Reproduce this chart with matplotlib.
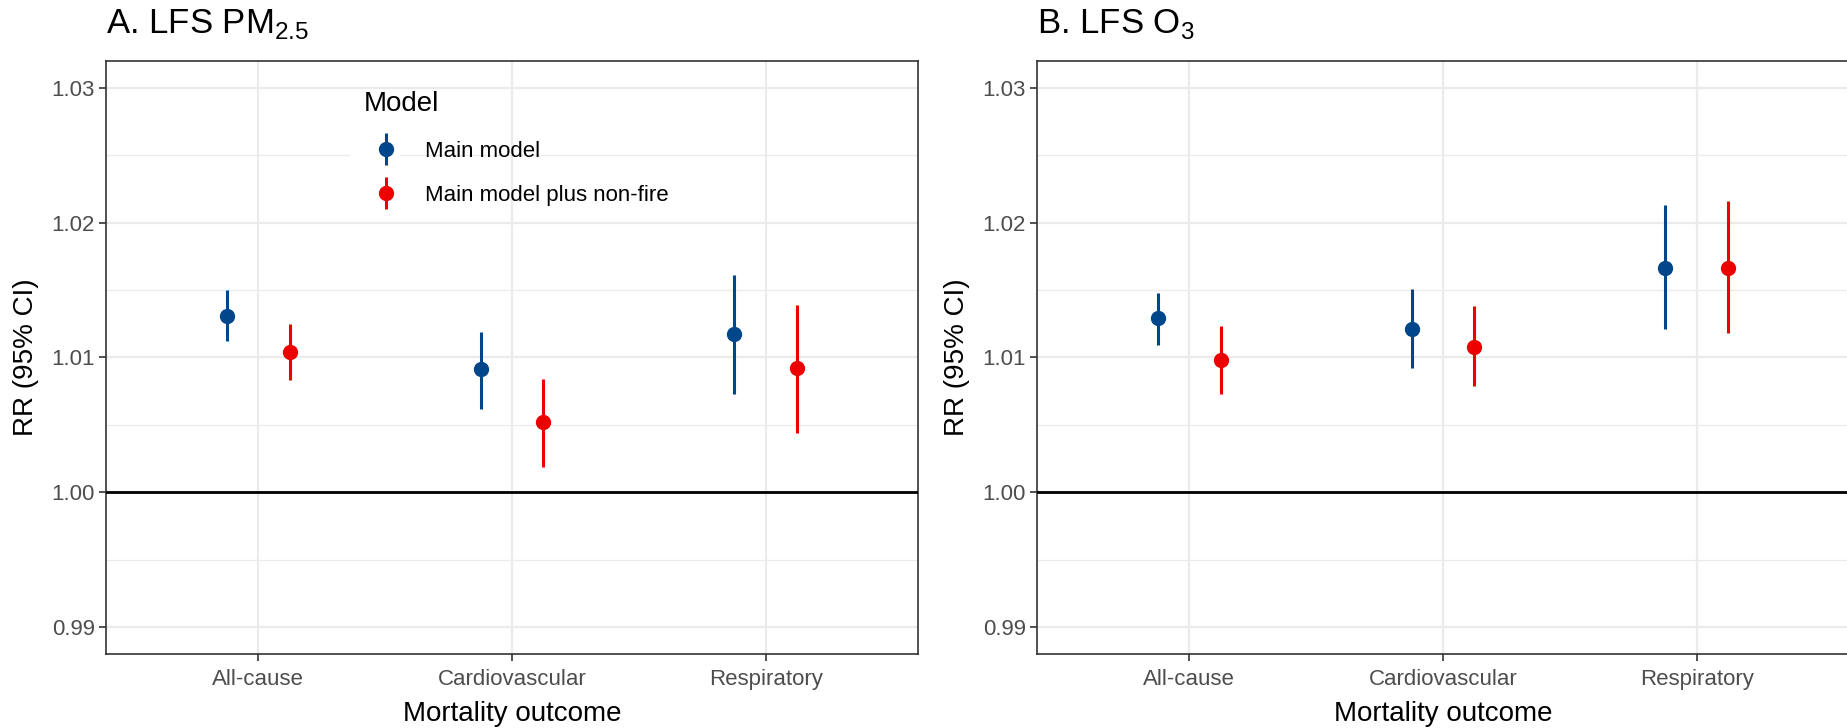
import matplotlib
matplotlib.use("Agg")
import matplotlib.pyplot as plt
import numpy as np
from matplotlib.container import ErrorbarContainer
from matplotlib.legend_handler import HandlerErrorbar
from matplotlib.patches import Rectangle

plt.rcParams['font.family'] = ['Liberation Sans', 'DejaVu Sans']

outcomes = ["All-cause", "Cardiovascular", "Respiratory"]
models = ["Main model", "Main model plus non-fire"]
colors = ["#00468B", "#ED0000"]

# panel A: PM2.5  (estimate, lower, upper)
pm_main = [1.0131, 1.0091, 1.0117]
pm_main_lo = [1.0112, 1.0062, 1.0073]
pm_main_hi = [1.0150, 1.0119, 1.0161]
pm_nonfire = [1.0104, 1.0052, 1.0092]
pm_nonfire_lo = [1.0083, 1.0019, 1.0044]
pm_nonfire_hi = [1.0125, 1.0084, 1.0139]

# panel B: O3
o3_main = [1.0129, 1.0121, 1.0166]
o3_main_lo = [1.0109, 1.0092, 1.0121]
o3_main_hi = [1.0148, 1.0151, 1.0213]
o3_nonfire = [1.0098, 1.0108, 1.0166]
o3_nonfire_lo = [1.0073, 1.0079, 1.0118]
o3_nonfire_hi = [1.0123, 1.0138, 1.0216]

yticks = [0.99, 1.00, 1.01, 1.02, 1.03]
ytick_labels = ["0.99", "1.00", "1.01", "1.02", "1.03"]

fig = plt.figure(figsize=(18.47, 7.28), dpi=100)

W, H = 1847.0, 728.0
def add_panel(left_px):
    return fig.add_axes([left_px / W, 1 - 654 / H, 812 / W, 593.3 / H])

def draw_panel(ax, series, title, title_x):
    x = np.arange(1, len(outcomes) + 1)
    dodge = [-0.124, 0.124]
    handles = []
    for (est, lo, hi), d, c in zip(series, dodge, colors):
        est = np.array(est); lo = np.array(lo); hi = np.array(hi)
        h = ax.errorbar(x + d, est, yerr=[est - lo, hi - est], fmt='o', color=c,
                        ms=10, elinewidth=2.2, capsize=0, zorder=4)
        handles.append(h)
    ax.axhline(1.0, color='black', lw=2, zorder=3)

    ax.set_xlim(0.4, 3.6)
    ax.set_ylim(0.988, 1.032)
    ax.set_xticks(x)
    ax.set_xticklabels(outcomes)
    ax.set_yticks(yticks)
    ax.set_yticklabels(ytick_labels)
    ax.set_yticks([0.995, 1.005, 1.015, 1.025], minor=True)
    ax.tick_params(axis='y', which='minor', length=0)
    ax.tick_params(which='major', labelsize=16, labelcolor='#4d4d4d',
                   color='#333333', length=5, width=1.2, pad=3)
    ax.tick_params(axis='x', pad=6)
    ax.grid(True, which='major', color='#ebebeb', lw=1.6, zorder=0)
    ax.grid(True, which='minor', axis='y', color='#ebebeb', lw=0.9, zorder=0)
    ax.set_axisbelow(True)
    for s in ax.spines.values():
        s.set_color('#333333')
        s.set_linewidth(1.2)
    ax.set_xlabel("Mortality outcome", fontsize=20, labelpad=8)
    ax.set_ylabel("RR (95% CI)", fontsize=20, labelpad=9)
    fig.text(title_x / W, 1 - 24 / H, title, fontsize=25, va='center', ha='left')
    return handles

ax1 = add_panel(106)
ax2 = add_panel(1037)

h = draw_panel(ax1, [(pm_main, pm_main_lo, pm_main_hi),
                     (pm_nonfire, pm_nonfire_lo, pm_nonfire_hi)],
               r"A. LFS PM$_\mathregular{2.5}$", 106)
draw_panel(ax2, [(o3_main, o3_main_lo, o3_main_hi),
                 (o3_nonfire, o3_nonfire_lo, o3_nonfire_hi)],
           r"B. LFS O$_\mathregular{3}$", 1037)

# white legend key background (hides the grid line behind the keys)
ax1.add_patch(Rectangle((0.3, 0.76), 0.062, 0.13, transform=ax1.transAxes,
                        facecolor='white', edgecolor='none', zorder=1))

leg = ax1.legend(h, models, title="Model", loc='upper left',
                 bbox_to_anchor=(0.293, 0.982), frameon=False, fontsize=16,
                 title_fontsize=20, labelspacing=1.05, handletextpad=0.75,
                 alignment='left',
                 handler_map={ErrorbarContainer: HandlerErrorbar(xerr_size=0.72)})

fig.savefig("out.png", dpi=100)
